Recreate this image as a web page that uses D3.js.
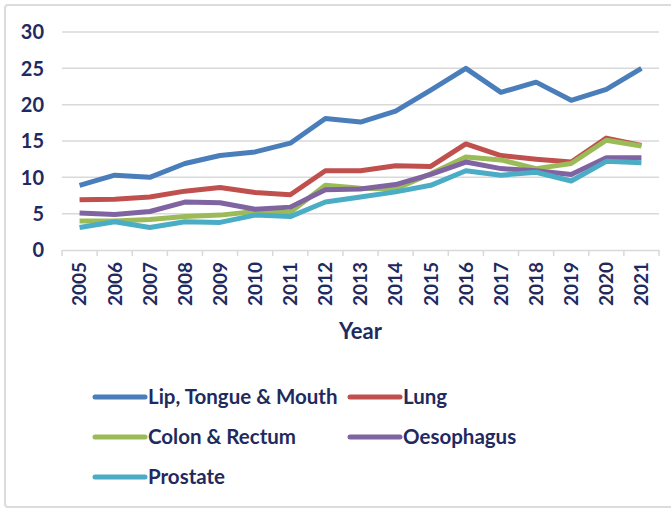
<!DOCTYPE html>
<html>
<head>
<meta charset="utf-8">
<script src="https://cdn.jsdelivr.net/npm/d3@7"></script>
<style>
  body { margin: 0; background: #fff; }
  text { font-family: Lato, "Open Sans", sans-serif; font-weight: bold; fill: #1f2a5e; }
</style>
</head>
<body>
<div id="chart"></div>
<script>
// Data
var years = ["2005","2006","2007","2008","2009","2010","2011","2012","2013","2014","2015","2016","2017","2018","2019","2020","2021"];
var seriesNames = ["Lip, Tongue & Mouth", "Lung", "Colon & Rectum", "Oesophagus", "Prostate"];
var lipTongueMouth = [8.9, 10.3, 10.0, 11.9, 13.0, 13.5, 14.7, 18.1, 17.6, 19.1, 22.0, 25.0, 21.7, 23.1, 20.6, 22.1, 25.0];
var lung           = [6.9, 7.0, 7.3, 8.1, 8.6, 7.9, 7.6, 10.9, 10.9, 11.6, 11.5, 14.6, 13.0, 12.5, 12.1, 15.4, 14.4];
var colonRectum    = [4.0, 4.0, 4.2, 4.6, 4.8, 5.3, 5.2, 8.9, 8.5, 8.4, 10.5, 12.8, 12.4, 11.2, 11.9, 15.1, 14.3];
var oesophagus     = [5.1, 4.9, 5.3, 6.6, 6.5, 5.6, 5.9, 8.3, 8.4, 9.0, 10.4, 12.1, 11.2, 10.9, 10.4, 12.7, 12.7];
var prostate       = [3.1, 3.9, 3.1, 3.9, 3.8, 4.8, 4.6, 6.6, 7.3, 8.0, 8.9, 10.9, 10.3, 10.7, 9.5, 12.2, 12.0];
var yTicks = [0, 5, 10, 15, 20, 25, 30];
var colors = ["#4a7ebb", "#c0504d", "#9bbb59", "#8064a2", "#4bacc6"];

var allSeries = [lipTongueMouth, lung, colonRectum, oesophagus, prostate];

var width = 671, height = 509;
var margin = {top: 32, left: 62, right: 12, bottom: 259};

var svg = d3.select("#chart").append("svg")
    .attr("width", width)
    .attr("height", height);

// outer frame
svg.append("rect")
    .attr("x", 5).attr("y", 5)
    .attr("width", 720).attr("height", 502)
    .attr("rx", 3)
    .attr("fill", "none")
    .attr("stroke", "#dcdcdc")
    .attr("stroke-width", 2);

var x = d3.scaleBand().domain(years).range([margin.left, width - margin.right]);
var y = d3.scaleLinear().domain([0, 30]).range([height - margin.bottom, margin.top]);

// gridlines
svg.append("g").selectAll("line")
    .data(yTicks.filter(function(d) { return d > 0; }))
    .enter().append("line")
    .attr("x1", margin.left).attr("x2", width - margin.right)
    .attr("y1", function(d) { return y(d); })
    .attr("y2", function(d) { return y(d); })
    .attr("stroke", "#d9d9d9")
    .attr("stroke-width", 1.5);

// y labels
svg.append("g").selectAll("text")
    .data(yTicks)
    .enter().append("text")
    .attr("x", 44)
    .attr("y", function(d) { return y(d); })
    .attr("dy", "0.36em")
    .attr("text-anchor", "end")
    .style("font-size", "20px")
    .text(function(d) { return d; });

// x axis
var xAxis = svg.append("g")
    .attr("transform", "translate(0," + y(0) + ")")
    .call(d3.axisBottom(x).tickSize(0).tickFormat(""));
xAxis.select(".domain").attr("stroke", "#d9d9d9").attr("stroke-width", 1.5);

// category boundary ticks
var bounds = years.map(function(d) { return x(d); }).concat([x.range()[1]]);
svg.append("g").selectAll("line")
    .data(bounds)
    .enter().append("line")
    .attr("x1", function(d) { return d; }).attr("x2", function(d) { return d; })
    .attr("y1", y(0)).attr("y2", y(0) + 6)
    .attr("stroke", "#d9d9d9")
    .attr("stroke-width", 1.5);

// rotated year labels
svg.append("g").selectAll("text")
    .data(years)
    .enter().append("text")
    .attr("transform", function(d) {
        return "translate(" + (x(d) + x.bandwidth() / 2) + "," + (y(0) + 12) + ") rotate(-90)";
    })
    .attr("dy", "0.36em")
    .attr("text-anchor", "end")
    .style("font-size", "19px")
    .text(function(d) { return d; });

svg.append("text")
    .attr("x", (margin.left + width - margin.right) / 2)
    .attr("y", 339)
    .attr("text-anchor", "middle")
    .style("font-size", "22px")
    .text("Year");

// lines
var line = d3.line()
    .x(function(d, i) { return x(years[i]) + x.bandwidth() / 2; })
    .y(function(d) { return y(d); });

svg.append("g").selectAll("path")
    .data(allSeries)
    .enter().append("path")
    .attr("d", line)
    .attr("fill", "none")
    .attr("stroke", function(d, i) { return colors[i]; })
    .attr("stroke-width", 5)
    .attr("stroke-linejoin", "round");

// legend
var legendPos = [[95, 397], [350, 397], [95, 437], [350, 437], [95, 477]];
var legend = svg.append("g").selectAll("g")
    .data(seriesNames)
    .enter().append("g")
    .attr("transform", function(d, i) { return "translate(" + legendPos[i][0] + "," + legendPos[i][1] + ")"; });

legend.append("line")
    .attr("x1", 0).attr("x2", 50)
    .attr("stroke", function(d, i) { return colors[i]; })
    .attr("stroke-width", 5)
    .attr("stroke-linecap", "round");

legend.append("text")
    .attr("x", 53)
    .attr("dy", "0.36em")
    .style("font-size", "20.5px")
    .text(function(d) { return d; });
</script>
</body>
</html>
